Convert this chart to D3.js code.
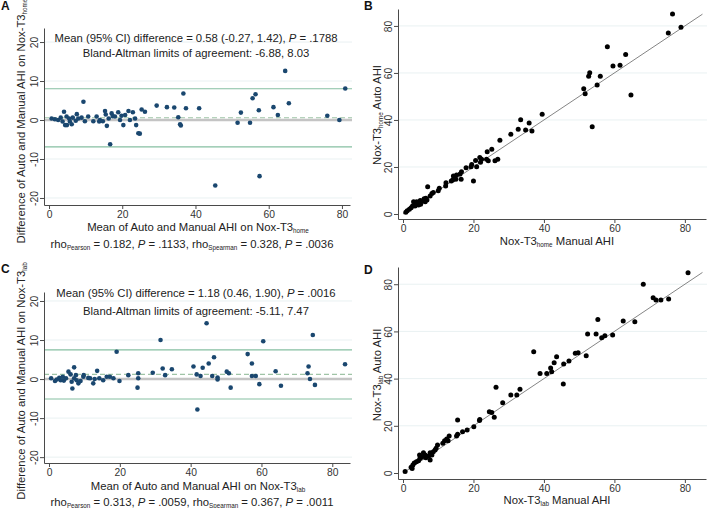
<!DOCTYPE html>
<html><head><meta charset="utf-8">
<script src="https://cdn.jsdelivr.net/npm/d3@7"></script>
<style>body{margin:0;background:#fff}svg{display:block;font-family:"Liberation Sans",Arial,sans-serif}</style>
</head><body><svg id="c" width="707" height="508"></svg>
<script>
// ---- Data ----
// Panel A: Bland-Altman, Nox-T3 home
const baHomeMean = [0.7,1.6,2.5,3.2,3.7,4.1,4.4,4.8,4.9,5.5,5.7,6.2,6.5,7.3,7.6,8.0,8.9,9.4,9.8,10.7,12.1,13.0,13.7,13.9,14.7,15.3,15.5,15.8,16.3,16.7,17.1,17.4,18.0,18.9,19.4,19.8,20.3,20.8,21.7,22.1,22.9,23.5,23.8,24.4,24.8,25.3,26.2,29.4,32.2,34.2,35.3,35.8,36.0,36.7,37.4,41.0,45.4,51.5,52.4,54.9,55.6,56.4,57.3,57.5,61.3,62.5,64.5,65.5,76.0,79.3,80.9];
const baHomeDiff = [0.4,0.2,0,0.6,-0.4,2.1,-1.3,0.9,-1.3,0.4,-0.4,-1.1,0.6,-0.2,1.5,0.4,0.6,4.7,-0.3,0.9,-0.3,0.9,-0.4,0,-0.3,2.3,1.4,-1.5,0.4,-6.2,1.7,1.0,0.9,2.0,0,1.1,-1.3,1.3,2.3,0,2.0,0.4,-1.3,-3.4,-3.5,2.7,2.1,3.7,3.3,3.2,0.7,-1.1,-1.4,6.8,3.0,3.0,-16.8,-0.7,1.9,-0.7,5.6,6.6,2.5,-14.4,3.3,1.3,12.6,4.3,1.1,0,8.1];
const baHomeLimits = [-6.88, 0.58, 8.03]; // lower LoA, mean, upper LoA

// Panel C: Bland-Altman, Nox-T3 lab
const baLabMean = [0.6,1.7,2.2,2.9,3.3,3.9,4.2,4.8,5.5,6.1,6.4,6.6,7.1,7.1,7.6,7.8,8.3,8.9,9.7,9.8,11.1,11.6,12.5,12.9,13.6,14.2,15.3,16.3,17.2,18.2,19.1,19.9,22.4,25.2,25.2,25.0,29.3,31.5,32.1,32.8,34.7,40.8,41.7,41.9,42.8,43.4,44.5,45.1,46.1,46.6,47.6,47.6,50.2,50.8,51.3,56.1,57.3,57.3,58.4,59.4,60.5,64.0,65.5,73.0,73.3,73.7,74.5,75.1,83.6];
const baLabDiff = [0.2,-0.5,-0.1,0.3,-0.3,0.6,-0.4,0.2,1.9,1.2,-0.7,-2.4,3.0,0.2,1.0,-0.3,-1.1,-0.5,0.6,1.0,0.3,0.2,-1.1,0,2.1,0.2,-0.3,0.6,0.6,0.2,7.0,-0.5,1.0,1.5,0.2,-2.2,1.6,10.0,2.7,1.0,2.5,3.2,1.2,-7.8,0.8,2.9,14.3,4.0,0.8,5.6,0.4,-0.1,1.9,1.5,-2.2,6.4,4.0,0.8,0.8,-1.3,9.7,2.0,-1.7,1.5,3.2,0,11.3,-1.5,3.8];
const baLabLimits = [-5.11, 1.18, 7.47];

// Panel B: scatter, home
const homeManual = [76.5,75.3,78.9,58.0,63.2,59.6,61.6,53.0,52.7,56.0,55.1,51.3,51.7,64.7,39.5,33.4,35.8,53.7,32.7,34.8,30.6,36.6,27.5,25.2,23.9,23.7,24.2,26.1,26.9,22.3,21.8,20.6,20.9,22.0,19.5,19.3,20.0,17.9,16.6,16.2,15.2,16.5,14.3,14.1,15.0,13.7,12.2,12.1,10.3,10.0,8.6,8.2,7.0,7.7,6.5,6.0,5.6,4.9,4.4,3.9,3.5,3.0,3.4,2.7,2.3,1.8,1.2,0.8,5.0,6.3,6.8,4.4];
const homeAuto   = [85.1,77.0,79.4,71.1,67.8,63.0,63.3,60.1,58.6,58.6,54.9,53.3,51.2,50.6,42.4,40.1,38.7,37.1,36.0,35.7,33.9,35.3,31.4,27.5,26.5,23.3,22.7,22.7,23.3,23.3,24.0,22.8,20.1,22.0,21.1,20.1,14.0,19.7,18.0,17.0,16.6,14.8,16.2,14.5,14.8,14.0,13.3,11.9,10.9,9.9,9.1,8.7,11.6,7.7,6.7,6.5,5.5,5.7,4.8,5.2,4.6,5.2,3.4,3.4,2.7,2.0,1.4,0.7,4.1,5.2,5.9,3.8];

// Panel D: scatter, lab
const labManual = [80.9,68.2,71.0,71.8,73.2,75.4,65.8,62.5,59.5,55.3,54.8,52.4,56.4,57.3,52.0,48.9,49.7,47.1,45.6,43.6,42.9,41.9,42.2,40.8,38.9,37.1,45.5,26.4,33.2,30.6,32.3,28.3,24.5,25.2,25.9,21.8,21.7,15.5,20.1,18.2,16.9,15.5,15.2,13.1,12.4,12.8,11.8,11.3,9.8,9.4,9.1,8.6,7.7,8.2,7.3,7.7,6.3,5.8,6.5,5.3,4.8,4.4,3.8,3.2,2.8,2.3,2.6,0.6,4.7];
const labAuto   = [84.9,80.0,74.3,73.3,73.3,73.7,64.1,64.4,58.5,65.1,58.9,58.9,57.3,58.2,49.7,50.7,51.0,47.5,46.2,49.3,46.7,44.5,42.9,42.2,42.2,51.4,37.7,36.3,35.5,33.1,33.1,29.8,26.0,25.6,23.6,22.7,22.2,22.5,19.6,18.2,17.5,16.4,15.7,15.7,14.4,13.7,13.7,12.6,11.9,10.5,9.8,9.0,8.6,7.6,7.2,5.5,7.6,8.6,6.5,6.7,6.1,5.2,4.8,4.2,3.4,2.4,1.9,0.6,7.6];

const identityLine = [0, 85];
const baTicksX = [0,20,40,60,80];
const baTicksY = [-20,-10,0,10,20];
const scTicks = [0,20,40,60,80];
const baGridY = [-20,-10,10,20];
const scGridY = [20,40,60,80];

// ---- Drawing ----
const svg = d3.select("#c");
const FONT_MAIN = 11.3, FONT_TICK = 10.3, FONT_SUB = 6.3;
const AXIS_COL = "#4a4a4a", NAVY = "#1a476f", GREEN = "#86bfa2", GRID = "#e9f1f2";

function rich(sel, parts){
  // parts: [text, kind] kind: undefined | 'sub' | 'it'
  let prevSub = false;
  parts.forEach(([t,k])=>{
    const ts = sel.append("tspan").text(t);
    if(k==='sub'){ ts.attr("font-size",FONT_SUB).attr("dy",2); prevSub = true; }
    else { if(prevSub){ ts.attr("dy",-2); prevSub=false; } if(k==='it') ts.attr("font-style","italic"); }
  });
  return sel;
}

function yAxis(g, y, ticks, x0){
  const ax = g.append("g").attr("transform",`translate(${x0},0)`)
    .call(d3.axisLeft(y).tickValues(ticks).tickSize(4).tickSizeOuter(0).tickFormat(d=>String(d)));
  ax.select(".domain").attr("stroke",AXIS_COL);
  ax.selectAll(".tick line").attr("stroke",AXIS_COL);
  ax.selectAll(".tick text").attr("transform","rotate(-90)").attr("x",0).attr("y",-6).attr("dy",0)
    .attr("text-anchor","middle").attr("font-size",FONT_TICK).attr("fill","#333").attr("font-family",null);
}
function xAxis(g, x, ticks, y0){
  const ax = g.append("g").attr("transform",`translate(0,${y0})`)
    .call(d3.axisBottom(x).tickValues(ticks).tickSize(4).tickSizeOuter(0).tickFormat(d=>String(d)));
  ax.select(".domain").attr("stroke",AXIS_COL);
  ax.selectAll(".tick line").attr("stroke",AXIS_COL);
  ax.selectAll(".tick text").attr("y",13).attr("dy",0).attr("font-size",FONT_TICK).attr("fill","#333").attr("font-family",null);
}

function drawBA(o){
  const g = svg.append("g");
  const x = d3.scaleLinear().domain(o.xDom).range([44,350]);
  const y = d3.scaleLinear().domain(o.yDom).range(o.yRange);
  // grid
  g.selectAll(".gr").data(baGridY).join("line").attr("x1",44).attr("x2",352)
    .attr("y1",d=>y(d)).attr("y2",d=>y(d)).attr("stroke",GRID).attr("stroke-width",1);
  // zero line
  g.append("line").attr("x1",44).attr("x2",352).attr("y1",y(0)).attr("y2",y(0)).attr("stroke","#c4c4c4").attr("stroke-width",2.6);
  // limits
  const [lo,mean,hi] = o.limits;
  [lo,hi].forEach(v=>g.append("line").attr("x1",44).attr("x2",352).attr("y1",y(v)).attr("y2",y(v)).attr("stroke",GREEN).attr("stroke-width",1.1));
  g.append("line").attr("x1",44).attr("x2",352).attr("y1",y(mean)).attr("y2",y(mean)).attr("stroke","#9fc4a6").attr("stroke-width",1.2).attr("stroke-dasharray","5,3");
  // points
  g.selectAll(".p").data(o.mean.map((m,i)=>[m,o.diff[i]])).join("circle")
    .attr("cx",d=>x(d[0])).attr("cy",d=>y(d[1])).attr("r",2.3).attr("fill",NAVY);
  yAxis(g,y,baTicksY,44);
  xAxis(g,x,baTicksX,o.yRange[0]);
  // texts
  rich(g.append("text").attr("x",196).attr("y",o.t1).attr("text-anchor","middle").attr("font-size",FONT_MAIN).attr("fill","#222"),
    [[o.line1a],["P",'it'],[o.line1b]]);
  g.append("text").attr("x",196).attr("y",o.t2).attr("text-anchor","middle").attr("font-size",FONT_MAIN).attr("fill","#222").text(o.line2);
  rich(g.append("text").attr("x",198).attr("y",o.tx).attr("text-anchor","middle").attr("font-size",FONT_MAIN).attr("fill","#222"),
    [["Mean of Auto and Manual AHI on Nox-T3"],[o.sub,'sub']]);
  rich(g.append("text").attr("x",192).attr("y",o.tr).attr("text-anchor","middle").attr("font-size",FONT_MAIN).attr("fill","#222"),
    [["rho"],["Pearson",'sub'],[" = "+o.rp+", "],["P",'it'],[" = "+o.pp+", rho"],["Spearman",'sub'],[" = "+o.rs+", "],["P",'it'],[" = "+o.ps]]);
  rich(g.append("text").attr("transform",`translate(25,${o.ylc}) rotate(-90)`).attr("text-anchor","middle").attr("font-size",FONT_MAIN).attr("fill","#222"),
    [["Difference of Auto and Manual AHI on Nox-T3"],[o.sub,'sub']]);
  g.append("text").attr("x",1).attr("y",o.ly).attr("font-size",12).attr("font-weight","bold").attr("fill","#111").text(o.letter);
}

function drawSC(o){
  const g = svg.append("g");
  const x = d3.scaleLinear().domain([-1.42,86.0]).range([398,706]);
  const y = d3.scaleLinear().domain(o.yDom).range(o.yRange);
  g.selectAll(".gr").data(scGridY).join("line").attr("x1",398).attr("x2",707)
    .attr("y1",d=>y(d)).attr("y2",d=>y(d)).attr("stroke",GRID).attr("stroke-width",1);
  g.append("line").attr("x1",x(identityLine[0])).attr("y1",y(identityLine[0]))
    .attr("x2",x(identityLine[1])).attr("y2",y(identityLine[1])).attr("stroke","#777").attr("stroke-width",0.9);
  g.selectAll(".p").data(o.man.map((m,i)=>[m,o.aut[i]])).join("circle")
    .attr("cx",d=>x(d[0])).attr("cy",d=>y(d[1])).attr("r",2.5).attr("fill","#000");
  yAxis(g,y,scTicks,398);
  xAxis(g,x,scTicks,o.yRange[0]);
  rich(g.append("text").attr("x",557).attr("y",o.tx).attr("text-anchor","middle").attr("font-size",FONT_MAIN).attr("fill","#222"),
    [["Nox-T3"],[o.sub,'sub'],[" Manual AHI"]]);
  rich(g.append("text").attr("transform",`translate(381,${o.ylc}) rotate(-90)`).attr("text-anchor","middle").attr("font-size",FONT_MAIN).attr("fill","#222"),
    [["Nox-T3"],[o.sub,'sub'],[" Auto AHI"]]);
  g.append("text").attr("x",364).attr("y",o.ly).attr("font-size",12).attr("font-weight","bold").attr("fill","#111").text(o.letter);
}

drawBA({xDom:[-1.37,82.2], yDom:[-21.8,23.6], yRange:[205,28], mean:baHomeMean, diff:baHomeDiff, limits:baHomeLimits,
  line1a:"Mean (95% CI) difference = 0.58 (-0.27, 1.42), ", line1b:" = .1788",
  line2:"Bland-Altman limits of agreement: -6.88, 8.03", sub:"home",
  rp:"0.182", pp:".1133", rs:"0.328", ps:".0036",
  t1:42, t2:57, tx:231, tr:248, ylc:121, letter:"A", ly:10});
drawBA({xDom:[-1.41,85.0], yDom:[-21.5,22.3], yRange:[463,292], mean:baLabMean, diff:baLabDiff, limits:baLabLimits,
  line1a:"Mean (95% CI) difference = 1.18 (0.46, 1.90), ", line1b:" = .0016",
  line2:"Bland-Altman limits of agreement: -5.11, 7.47", sub:"lab",
  rp:"0.313", pp:".0059", rs:"0.367", ps:".0011",
  t1:297, t2:315, tx:490, tr:506, ylc:381, letter:"C", ly:273});
drawSC({yDom:[-2.13,87.2], yRange:[219,9], man:homeManual, aut:homeAuto, sub:"home", tx:245, ylc:115, letter:"B", ly:10});
drawSC({yDom:[-2.54,87.3], yRange:[479,267], man:labManual, aut:labAuto, sub:"lab", tx:504, ylc:375, letter:"D", ly:274});
</script></body></html>
